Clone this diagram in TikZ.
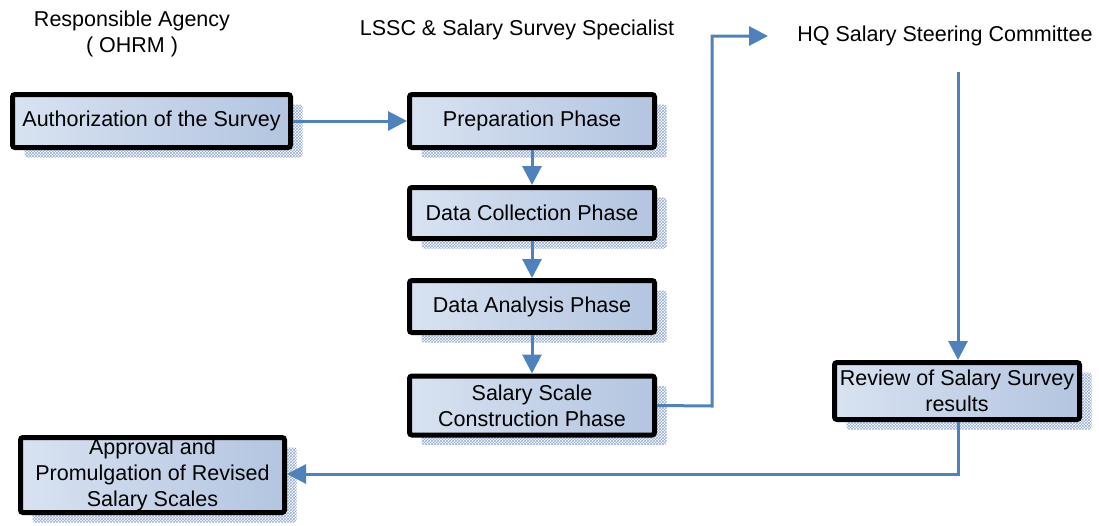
\documentclass[tikz,border=0pt]{standalone}
\usepackage{fontspec}
\setmainfont{Liberation Sans}
\usetikzlibrary{arrows.meta,shadows,patterns}
\definecolor{flowblue}{HTML}{4F81BD}
\definecolor{boxlight}{HTML}{D8E2F1}
\definecolor{boxdark}{HTML}{B3C5E0}
\definecolor{shadowblue}{HTML}{93ABD3}
\begin{document}
\begin{tikzpicture}[x=1pt, y=-1pt,
  phase/.style={rectangle, draw=black, line width=5pt, rounded corners=2.5pt,
    left color=boxlight, right color=boxdark, align=center, inner sep=0pt,
    font=\fontsize{21.5}{26}\selectfont, minimum width=245pt,
    drop shadow={shadow xshift=12pt, shadow yshift=-10pt, opacity=1,
      fill=none, pattern=crosshatch, pattern color=shadowblue}},
  heading/.style={font=\fontsize{21.5}{26}\selectfont, align=center},
  flow/.style={draw=flowblue, line width=3pt,
    -{Triangle[length=19pt, width=19pt]}}]
\useasboundingbox (0,0) rectangle (1099,525);
\node[heading] (agency) at (132, 34) {Responsible Agency\\( OHRM )};
\node[heading] (lssc) at (517, 30) {LSSC \& Salary Survey Specialist};
\node[heading] (hq) at (945, 36) {HQ Salary Steering Committee};
\node[phase, minimum width=278pt, minimum height=53pt] (auth) at (151.5, 121) {Authorization of the Survey};
\node[phase, minimum height=53pt] (prep) at (532, 121) {Preparation Phase};
\node[phase, minimum height=51pt] (collect) at (532, 213) {Data Collection Phase};
\node[phase, minimum height=52pt] (analysis) at (532, 306.5) {Data Analysis Phase};
\node[phase, minimum height=59pt] (construct) at (532, 405.5) {Salary Scale\\Construction Phase};
\node[phase, minimum height=57pt] (review) at (957, 391) {Review of Salary Survey\\results};
\node[phase, minimum width=264pt, minimum height=75pt] (approval) at (152.5, 475) {Approval and\\Promulgation of Revised\\Salary Scales};
\coordinate (hqin) at (768, 36);
\coordinate (hqout) at (958, 72);
\draw[flow] (auth) -- (prep);
\draw[flow] (prep) -- (collect);
\draw[flow] (collect) -- (analysis);
\draw[flow] (analysis) -- (construct);
\draw[flow] (construct.east) -- (712, 406) |- (hqin);
\draw[flow] (hqout) -- (hqout |- review.north);
\draw[flow] (review.south -| hqout) |- (approval.east |- 0, 474);
\end{tikzpicture}
\end{document}
